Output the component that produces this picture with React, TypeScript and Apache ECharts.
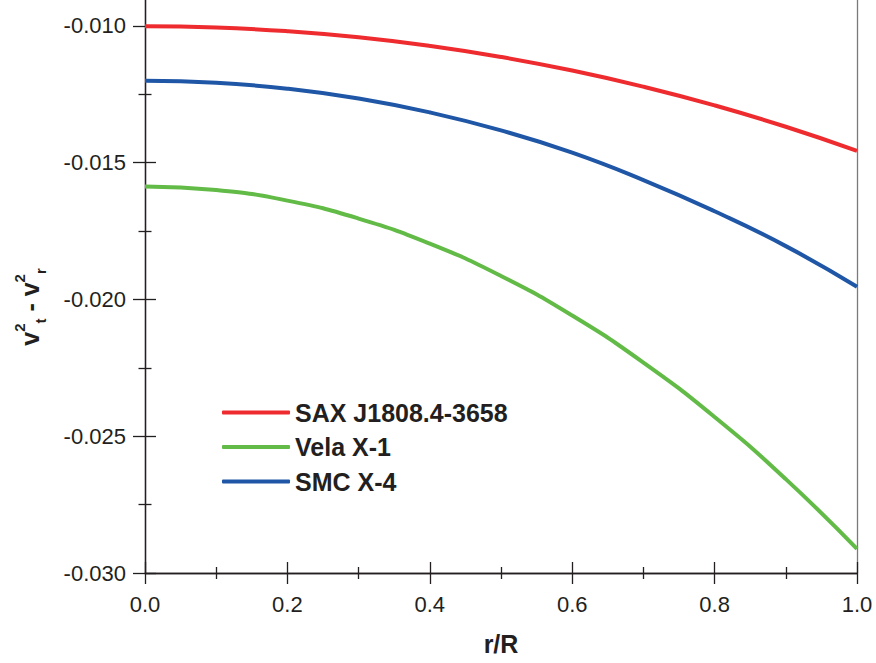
import React, { useEffect, useRef } from "react";
import * as echarts from "echarts";

const rValues = [0, 0.1, 0.2, 0.3, 0.4, 0.5, 0.6, 0.7, 0.8, 0.9, 1.0];
const saxValues = [-0.01002, -0.010064, -0.010198, -0.010421, -0.010735, -0.011139, -0.011635, -0.012225, -0.012909, -0.01369, -0.01457];
const velaValues = [-0.01587, -0.016, -0.016391, -0.017045, -0.017961, -0.019142, -0.02059, -0.022309, -0.0243, -0.02657, -0.02912];
const smcValues = [-0.01201, -0.012082, -0.012298, -0.012658, -0.013166, -0.013824, -0.014637, -0.01564, -0.01678, -0.018053, -0.01954];
const seriesNames = ["SAX J1808.4-3658", "Vela X-1", "SMC X-4"];
const seriesColors = ["#ee2b2e", "#63bb47", "#1f56a6"];

const FONT = "'Liberation Sans', Arial, Helvetica, sans-serif";
const INK = "#231f20";

export default function App() {
  const ref = useRef<HTMLDivElement>(null);
  useEffect(() => {
    if (!ref.current) return;
    const chart = echarts.init(ref.current, undefined, { renderer: "svg" });
    const toPairs = (vals: number[]) => rValues.map((r, i) => [r, vals[i]]);
    const xBase = {
      type: "value",
      min: 0,
      max: 1,
      interval: 0.2,
      position: "bottom",
      splitLine: { show: false },
      axisLine: { show: true, onZero: false, lineStyle: { color: INK, width: 1.3 } },
      minorTick: { show: true, splitNumber: 2, length: 6, lineStyle: { color: INK, width: 1.3 } },
    };
    const yBase = {
      type: "value",
      min: -0.03,
      max: -0.005,
      interval: 0.005,
      position: "left",
      splitLine: { show: false },
      axisLine: { show: true, onZero: false, lineStyle: { color: INK, width: 1.3 } },
      minorTick: { show: true, splitNumber: 2, length: 6.5, lineStyle: { color: INK, width: 1.3 } },
    };
    chart.setOption({
      animation: false,
      backgroundColor: "#ffffff",
      grid: { left: 145, right: 19, top: -111, bottom: 90, containLabel: false, outerBoundsMode: "none" },
      legend: {
        orient: "vertical",
        left: 222,
        top: 400,
        padding: 0,
        itemGap: 9.5,
        itemWidth: 68,
        itemHeight: 4,
        icon: "roundRect",
        data: seriesNames,
        textStyle: { fontFamily: FONT, fontSize: 25, fontWeight: "bold", color: INK, lineHeight: 25 },
      },
      xAxis: [
        {
          ...xBase,
          axisTick: { show: true, inside: false, length: 11, lineStyle: { color: INK, width: 1.3 } },
          axisLabel: {
            fontFamily: FONT,
            fontSize: 22,
            color: INK,
            margin: 20,
            formatter: (v: number) => v.toFixed(1),
          },
          name: "r/R",
          nameLocation: "middle",
          nameGap: 58,
          nameTextStyle: { fontFamily: FONT, fontSize: 25, fontWeight: "bold", color: INK },
        },
        {
          ...xBase,
          axisTick: { show: true, inside: true, length: 11, lineStyle: { color: INK, width: 1.3 } },
          axisLabel: { show: false },
        },
      ],
      yAxis: [
        {
          ...yBase,
          axisTick: { show: true, inside: false, length: 12, lineStyle: { color: INK, width: 1.3 } },
          axisLabel: {
            fontFamily: FONT,
            fontSize: 22,
            color: INK,
            margin: 19,
            formatter: (v: number) => (v > -0.0095 ? "" : v.toFixed(3)),
          },
        },
        {
          ...yBase,
          axisTick: { show: true, inside: true, length: 11, lineStyle: { color: INK, width: 1.3 } },
          axisLabel: { show: false },
        },
        {
          ...yBase,
          position: "right",
          axisLine: { show: true, onZero: false, lineStyle: { color: "#7a7a7a", width: 1.3 } },
          axisTick: { show: false },
          minorTick: { show: false },
          axisLabel: { show: false },
        },
      ],
      graphic: [
        {
          type: "text",
          x: 30,
          y: 307,
          rotation: Math.PI / 2,
          style: {
            text: "{v|v}{sup|2}{sub|t}{m| - }{v|v}{sup|2}{sub|r}",
            align: "center",
            verticalAlign: "middle",
            fill: INK,
            rich: {
              v: { fontFamily: FONT, fontSize: 25, fontWeight: "bold", fill: INK, lineHeight: 36 },
              sup: { fontFamily: FONT, fontSize: 15, fontWeight: "bold", fill: INK, verticalAlign: "top", lineHeight: 15 },
              sub: { fontFamily: FONT, fontSize: 15, fontWeight: "bold", fill: INK, verticalAlign: "bottom", lineHeight: 15 },
              m: { fontFamily: FONT, fontSize: 25, fontWeight: "bold", fill: INK, lineHeight: 36 },
            },
          },
        },
      ],
      series: seriesNames.map((name, i) => ({
        name,
        type: "line",
        xAxisIndex: 0,
        yAxisIndex: 0,
        smooth: true,
        showSymbol: false,
        symbol: "none",
        color: seriesColors[i],
        lineStyle: { color: seriesColors[i], width: 4 },
        data: toPairs([saxValues, velaValues, smcValues][i]),
      })),
    });
    return () => chart.dispose();
  }, []);
  return <div ref={ref} style={{ width: 876, height: 663, position: "absolute", left: 0, top: 0 }} />;
}
